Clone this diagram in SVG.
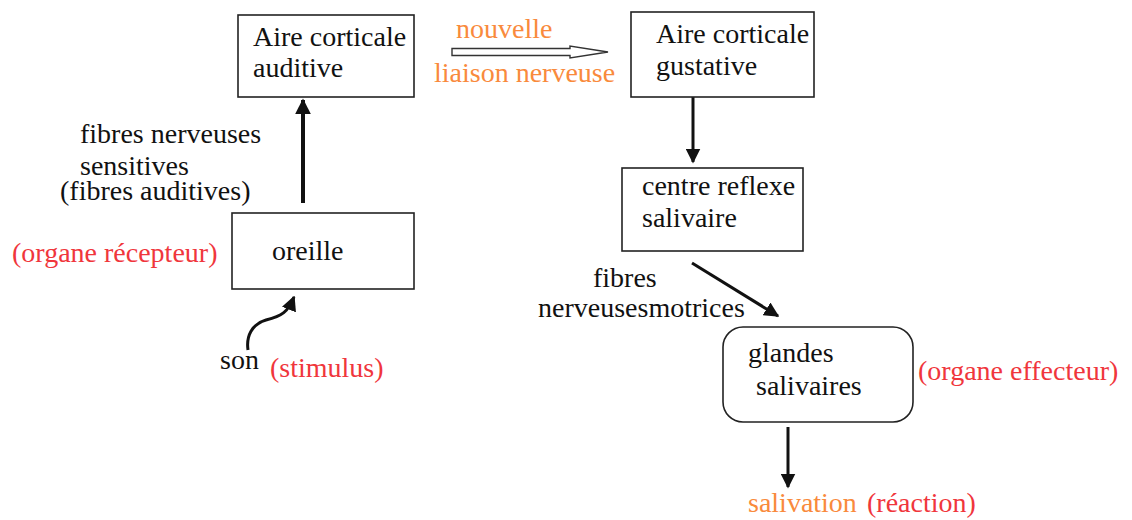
<svg xmlns="http://www.w3.org/2000/svg" width="1132" height="520" viewBox="0 0 1132 520">
<defs>
<style>
text{font-family:'Liberation Serif',Tinos,'Times New Roman','DejaVu Serif',serif;font-size:28px;fill:#111}
.box{fill:#fff;stroke:#222;stroke-width:1.6}
.or{fill:#f98a3c}
.rd{fill:#f0363c}
.ln{stroke:#111;fill:none}
</style>
<marker id="ah" viewBox="0 0 10 10" refX="9" refY="5" markerWidth="4" markerHeight="4" orient="auto-start-reverse" markerUnits="strokeWidth">
<path d="M0,0 L10,5 L0,10 Z" fill="#111"/>
</marker>
<marker id="ah2" viewBox="0 0 10 10" refX="9" refY="5" markerWidth="5" markerHeight="5" orient="auto" markerUnits="strokeWidth">
<path d="M0,0 L10,5 L0,10 Z" fill="#111"/>
</marker>
</defs>
<rect width="1132" height="520" fill="#fff"/>
<g id="connectors">
<line class="ln" x1="303" y1="203" x2="303" y2="100" stroke-width="4" marker-end="url(#ah)"/>
<polygon points="452,48.5 570,48.5 570,46 608,52 570,58 570,55.5 452,55.5" fill="#fff" stroke="#333" stroke-width="1.4"/>
<line class="ln" x1="693" y1="97" x2="693" y2="162" stroke-width="3" marker-end="url(#ah2)"/>
<line class="ln" x1="692" y1="263" x2="778" y2="316" stroke-width="3" marker-end="url(#ah2)"/>
<line class="ln" x1="788" y1="427" x2="788" y2="487" stroke-width="3" marker-end="url(#ah2)"/>
<path class="ln" d="M248,350 C246,336 252,324 266,320 C282,316 288,312 294,297" stroke-width="3" marker-end="url(#ah2)"/>
</g>
<g id="aire-auditive">
<rect class="box" x="238" y="15" width="176" height="82"/>
<text x="253" y="46">Aire corticale</text>
<text x="253" y="77">auditive</text>
</g>
<g id="liaison">
<text class="or" x="456" y="38">nouvelle</text>
<text class="or" x="434" y="82">liaison nerveuse</text>
</g>
<g id="aire-gustative">
<rect class="box" x="631" y="12" width="183" height="85"/>
<text x="656" y="43">Aire corticale</text>
<text x="656" y="75">gustative</text>
</g>
<g id="fibres-sensitives">
<text x="80" y="143">fibres nerveuses</text>
<text x="80" y="175">sensitives</text>
<text x="60" y="200">(fibres auditives)</text>
</g>
<g id="oreille">
<rect class="box" x="232" y="213" width="182" height="76"/>
<text x="272" y="260">oreille</text>
<text class="rd" x="12" y="262">(organe récepteur)</text>
</g>
<g id="son">
<text x="220" y="369">son</text>
<text class="rd" x="270" y="377">(stimulus)</text>
</g>
<g id="centre-reflexe">
<rect class="box" x="622" y="168" width="181" height="83"/>
<text x="642" y="195">centre reflexe</text>
<text x="642" y="227">salivaire</text>
</g>
<g id="fibres-motrices">
<text x="593" y="287">fibres</text>
<text x="538" y="317">nerveusesmotrices</text>
</g>
<g id="glandes">
<rect class="box" x="723" y="327" width="190" height="95" rx="20" ry="20"/>
<text x="748" y="362">glandes</text>
<text x="756" y="395">salivaires</text>
<text class="rd" x="918" y="380">(organe effecteur)</text>
</g>
<g id="salivation">
<text class="or" x="748" y="512">salivation</text>
<text class="rd" x="867" y="512">(réaction)</text>
</g>
</svg>
